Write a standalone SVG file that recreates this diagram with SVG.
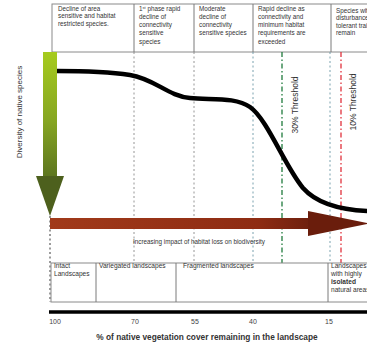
<svg xmlns="http://www.w3.org/2000/svg" width="367" height="349" viewBox="0 0 367 349">
  <defs>
    <style>
      text { font-family: "Liberation Sans", Arial, sans-serif; fill: #333; }
      .box { fill: #fff; stroke: #8a8a8a; stroke-width: 1; }
      .div { stroke: #7a7a7a; stroke-width: 1; }
      .t6 { font-size: 6.3px; }
      .t7 { font-size: 6.6px; }
      .dot { stroke: #8a8a8a; stroke-width: 0.9; stroke-dasharray: 2 2.5; fill: none; }
      .dotb { stroke: #6c97a6; stroke-width: 0.9; stroke-dasharray: 2 2.5; fill: none; }
      .tick { font-size: 7px; fill: #444; }
    </style>
    <linearGradient id="gGreen" x1="0" y1="0" x2="0" y2="1">
      <stop offset="0" stop-color="#a6cb1e"/>
      <stop offset="0.55" stop-color="#86a622"/>
      <stop offset="1" stop-color="#5d761f"/>
    </linearGradient>
    <linearGradient id="gBrown" x1="0" y1="0" x2="1" y2="0">
      <stop offset="0" stop-color="#a13a1a"/>
      <stop offset="0.8" stop-color="#8e2c13"/>
      <stop offset="1" stop-color="#6e200e"/>
    </linearGradient>
  </defs>
  <rect width="367" height="349" fill="#fff"/>

  <!-- top panel -->
  <g id="top-panel">
    <rect class="box" x="52" y="4" width="330" height="48"/>
    <line class="div" x1="134" y1="4" x2="134" y2="52"/>
    <line class="div" x1="194" y1="4" x2="194" y2="52"/>
    <line class="div" x1="253" y1="4" x2="253" y2="52"/>
    <line class="div" x1="331" y1="4" x2="331" y2="52"/>
  </g>
  <g id="phase1" class="t6">
    <text x="58" y="10.5">Decline of area</text>
    <text x="58" y="18">sensitive and habitat</text>
    <text x="58" y="25.5">restricted species.</text>
  </g>
  <g id="phase2" class="t6">
    <text x="139" y="10.5">1<tspan font-size="4" dy="-2">st</tspan><tspan dy="2"> phase rapid</tspan></text>
    <text x="139" y="18.5">decline of</text>
    <text x="139" y="26.5">connectivity</text>
    <text x="139" y="35">sensitive</text>
    <text x="139" y="43.5">species</text>
  </g>
  <g id="phase3" class="t6">
    <text x="199" y="10.5">Moderate</text>
    <text x="199" y="18.5">decline of</text>
    <text x="199" y="26.5">connectivity</text>
    <text x="199" y="35">sensitive species</text>
  </g>
  <g id="phase4" class="t6">
    <text x="258" y="10.5">Rapid decline as</text>
    <text x="258" y="18.5">connectivity and</text>
    <text x="258" y="26.5">minimum habitat</text>
    <text x="258" y="35">requirements are</text>
    <text x="258" y="43.5">exceeded</text>
  </g>
  <g id="phase5" class="t6">
    <text x="336" y="12.5">Species with</text>
    <text x="336" y="20">disturbance</text>
    <text x="336" y="27.5">tolerant traits</text>
    <text x="336" y="35">remain</text>
  </g>

  <!-- connectors: vertical guides and thresholds -->
  <g id="connectors">
    <line class="dot" x1="134" y1="52" x2="134" y2="263"/>
    <line class="dot" x1="194" y1="52" x2="194" y2="263"/>
    <line class="dotb" x1="253" y1="52" x2="253" y2="263"/>
    <line class="dotb" x1="330" y1="52" x2="330" y2="263"/>
    <line x1="50" y1="216" x2="50" y2="302" stroke="#222" stroke-width="0.9" stroke-dasharray="2 2.5"/>
    <line id="thr30-line" x1="282" y1="52" x2="282" y2="263" stroke="#1f7a3c" stroke-width="1.3" stroke-dasharray="5 2.5 1.5 2.5"/>
    <line id="thr10-line" x1="341" y1="52" x2="341" y2="263" stroke="#e0323c" stroke-width="1.3" stroke-dasharray="5 2.5 1.5 2.5"/>
  </g>

  <g id="thr30">
    <text transform="translate(298,105) rotate(-90)" text-anchor="middle" font-size="8.5" fill="#333">30% Threshold</text>
  </g>
  <g id="thr10">
    <text transform="translate(356,102) rotate(-90)" text-anchor="middle" font-size="8.5" fill="#333">10% Threshold</text>
  </g>

  <!-- y axis label -->
  <g id="y-label">
    <text transform="translate(22,112) rotate(-90)" text-anchor="middle" font-size="8" fill="#444">Diversity of native species</text>
  </g>

  <!-- curve -->
  <g id="curve">
    <path d="M57,71 C90,71 110,72 130,75 C155,79 168,96 190,98 C212,100 236,97 250,107 C268,120 284,165 303,188 C318,205 343,210 368,211" fill="none" stroke="#000" stroke-width="4.5" stroke-linecap="round"/>
  </g>

  <!-- brown arrow -->
  <g id="impact-arrow">
    <rect x="50" y="218" width="260" height="11" fill="url(#gBrown)"/>
    <polygon points="308,211 369,223.5 308,236" fill="#6a1d0c"/>
    <text x="199" y="244" text-anchor="middle" class="t6">Increasing impact of habitat loss on biodiversity</text>
  </g>

  <!-- green arrow -->
  <g id="diversity-arrow">
    <rect x="43" y="52" width="14" height="124" fill="url(#gGreen)"/>
    <polygon points="36,176 64,176 50,216" fill="#4d601d"/>
  </g>

  <!-- bottom panel -->
  <g id="bottom-panel">
    <rect class="box" x="51" y="263" width="330" height="39"/>
    <line class="div" x1="96" y1="263" x2="96" y2="302"/>
    <line class="div" x1="176" y1="263" x2="176" y2="302"/>
    <line class="div" x1="328" y1="263" x2="328" y2="302"/>
  </g>
  <g id="intact" class="t7"><text x="54" y="268">Intact</text><text x="54" y="276">Landscapes</text></g>
  <g id="variegated" class="t7"><text x="99" y="268">Variegated landscapes</text></g>
  <g id="fragmented" class="t7"><text x="183" y="268">Fragmented landscapes</text></g>
  <g id="relictual" class="t7">
    <text x="331" y="267.5">Landscapes</text>
    <text x="331" y="275.5">with highly</text>
    <text x="331" y="283.5" font-weight="bold">isolated</text>
    <text x="331" y="291.5">natural areas</text>
  </g>

  <!-- x axis -->
  <g id="x-axis">
    <line x1="49" y1="312" x2="368" y2="312" stroke="#000" stroke-width="3.5"/>
    <text class="tick" x="55" y="323.5" text-anchor="middle">100</text>
    <text class="tick" x="135" y="323.5" text-anchor="middle">70</text>
    <text class="tick" x="195" y="323.5" text-anchor="middle">55</text>
    <text class="tick" x="253" y="323.5" text-anchor="middle">40</text>
    <text class="tick" x="329" y="323.5" text-anchor="middle">15</text>
    <text x="207" y="339.5" text-anchor="middle" font-size="8.3" font-weight="bold" fill="#444">% of native vegetation cover remaining in the landscape</text>
  </g>
</svg>
